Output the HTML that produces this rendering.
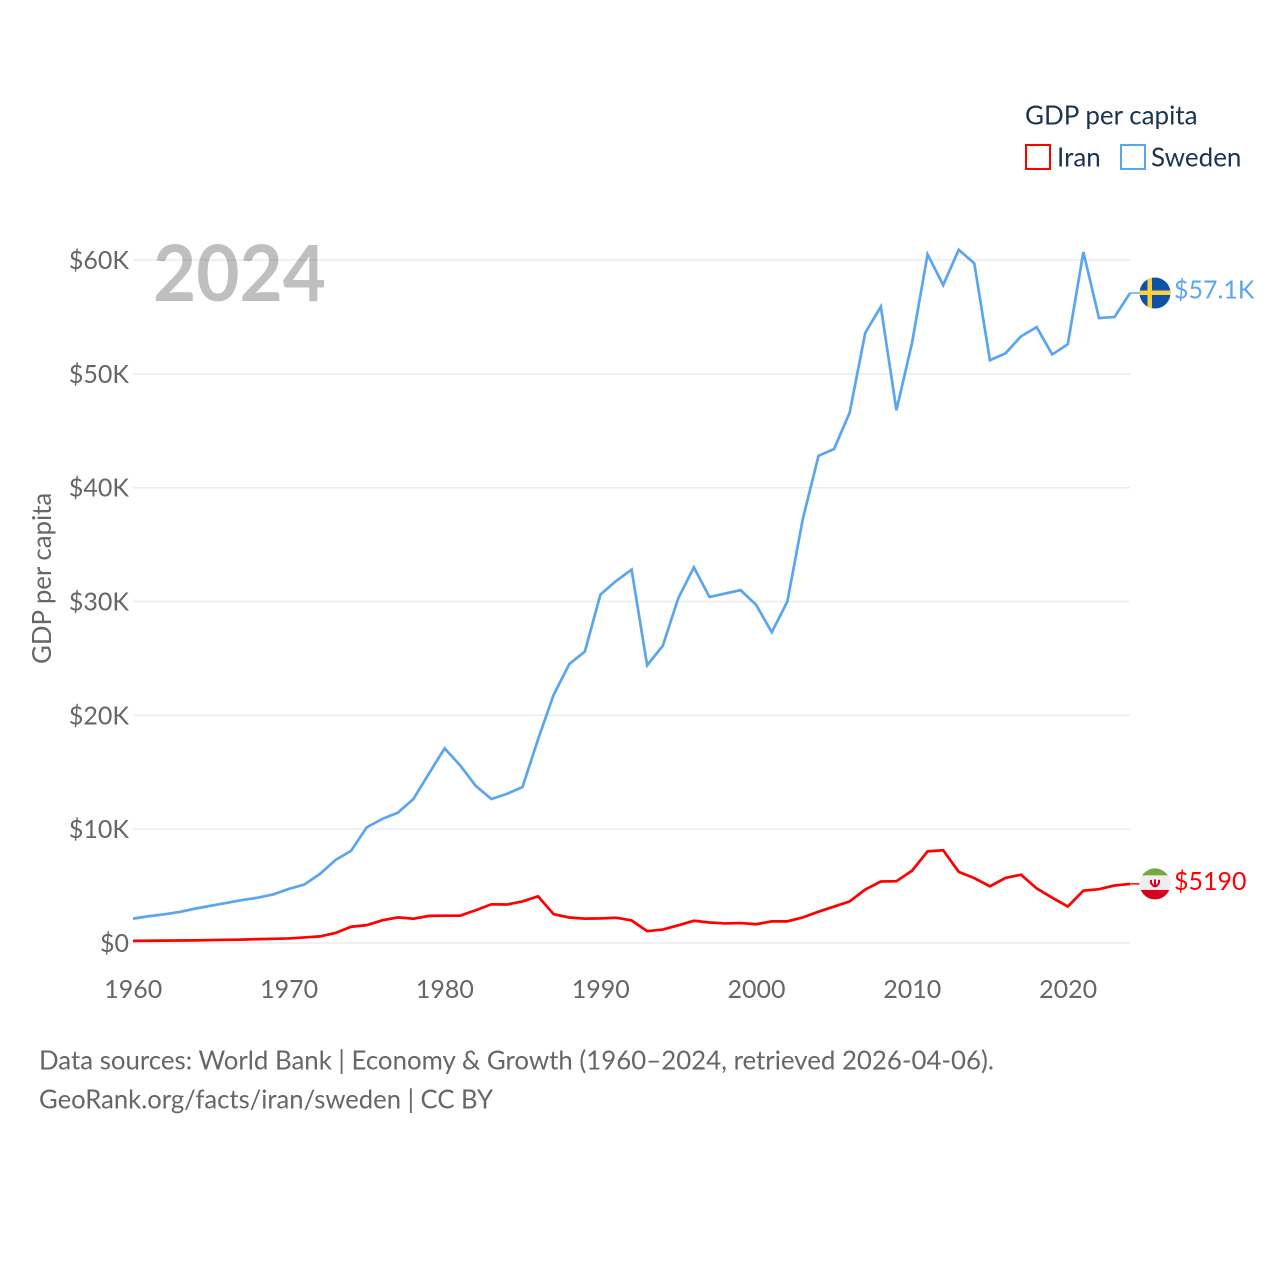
<!DOCTYPE html>
<html lang="en">
<head>
<meta charset="utf-8">
<title>GDP per capita: Iran and Sweden</title>
<style>
html,body{margin:0;padding:0;background:#fff;}
svg{display:block;font-family:"Lato","Carlito","Liberation Sans",sans-serif;}
</style>
</head>
<body>
<svg id="chart" width="1280" height="1280" viewBox="0 0 1280 1280" xmlns="http://www.w3.org/2000/svg">
  <rect x="0" y="0" width="1280" height="1280" fill="#ffffff"/>
  <defs>
    <clipPath id="flag-clip-se"><circle cx="1155" cy="293" r="15.500"/></clipPath>
    <clipPath id="flag-clip-ir"><circle cx="1155" cy="884" r="15.500"/></clipPath>
  </defs>
  <g id="grid"></g>
  <g id="yticks"></g>
  <g id="xticks"></g>
  <text x="153" y="301" font-size="78" font-weight="700" fill="#000000" fill-opacity="0.25" textLength="173" lengthAdjust="spacingAndGlyphs">2024</text>
  <text transform="translate(51,664) rotate(-90)" font-size="25.800" fill="#666666">GDP per capita</text>
  <g id="series"></g>
  <g id="flag-se">
    <g clip-path="url(#flag-clip-se)">
      <rect x="1139" y="277" width="32" height="32" fill="#0b52a8"/>
      <rect x="1139" y="290.500" width="32" height="4.500" fill="#fcd03c"/>
      <rect x="1147.500" y="277" width="4.500" height="32" fill="#fcd03c"/>
    </g>
  </g>
  <g id="flag-ir">
    <g clip-path="url(#flag-clip-ir)">
      <rect x="1139" y="868" width="32" height="7.500" fill="#75a843"/>
      <rect x="1139" y="875.500" width="32" height="14.500" fill="#eeeeee"/>
      <rect x="1139" y="890" width="32" height="10" fill="#d8001f"/>
      <path d="M1151 880 v3 q4 7 8 0 v-3 M1155 879.500 v7.500" fill="none" stroke="#d8001f" stroke-width="2"/>
    </g>
  </g>
  <text id="label-se" x="1174" y="298.500" font-size="25" fill="#5aa5ee"></text>
  <text id="label-ir" x="1174" y="890" font-size="25" fill="#ff0000"></text>
  <g>
    <text x="1025" y="124.500" font-size="26" fill="#1a3353">GDP per capita</text>
    <g>
      <rect x="1026" y="145" width="24" height="24" fill="none" stroke="#ff0000" stroke-width="2"/>
      <text x="1057" y="166.500" font-size="26" fill="#1a3353">Iran</text>
    </g>
    <g>
      <rect x="1121" y="145" width="24" height="24" fill="none" stroke="#5aa5ee" stroke-width="2"/>
      <text x="1151" y="166.500" font-size="26" fill="#1a3353">Sweden</text>
    </g>
  </g>
  <text x="39" y="1069.500" font-size="25.800" fill="#666666" textLength="955" lengthAdjust="spacingAndGlyphs">Data sources: World Bank | Economy &amp; Growth (1960–2024, retrieved 2026-04-06).</text>
  <text x="39" y="1108.500" font-size="25.800" fill="#666666" textLength="454" lengthAdjust="spacingAndGlyphs">GeoRank.org/facts/iran/sweden | CC BY</text>
</svg>
<script>
const startYear = 1960;
const yTickValues = [0, 10000, 20000, 30000, 40000, 50000, 60000];
const yTickLabels = ["$0", "$10K", "$20K", "$30K", "$40K", "$50K", "$60K"];
const xTickYears = [1960, 1970, 1980, 1990, 2000, 2010, 2020];
const swedenValues = [2140,2350,2520,2730,3020,3280,3520,3770,3980,4270,4750,5140,6070,7290,8100,10160,10900,11450,12650,14900,17100,15600,13800,12650,13100,13700,17900,21800,24500,25600,30600,31800,32800,24400,26100,30300,33000,30400,30700,31000,29700,27300,30000,37300,42800,43400,46600,53600,55900,46800,52700,60500,57800,60900,59700,51200,51800,53300,54100,51700,52600,60700,54900,55000,57100];
const iranValues = [190,200,210,220,230,260,280,300,340,370,400,490,580,880,1430,1570,1990,2250,2130,2380,2400,2400,2880,3400,3380,3650,4100,2530,2240,2140,2160,2220,1980,1040,1180,1550,1950,1800,1720,1750,1650,1900,1900,2250,2750,3200,3650,4700,5400,5430,6350,8050,8150,6250,5700,4980,5720,6000,4800,3980,3200,4600,4730,5050,5190];
const swedenEndLabel = "$57.1K";
const iranEndLabel = "$5190";

const NS = "http://www.w3.org/2000/svg";
function xScale(year) { return 133 + (year - 1960) * 15.58; }
function yScale(v) { return 943 - v * 683 / 60000; }
function make(tag, attrs, parent) {
  const el = document.createElementNS(NS, tag);
  for (const k in attrs) el.setAttribute(k, attrs[k]);
  parent.appendChild(el);
  return el;
}
const grid = document.getElementById("grid");
const yticks = document.getElementById("yticks");
const xticks = document.getElementById("xticks");
const series = document.getElementById("series");

yTickValues.forEach(function (v, i) {
  const line = make("line", {x1: 133, x2: 1130, y1: yScale(v), y2: yScale(v), stroke: "#ececec", "stroke-width": 1.5}, grid);
  
  
  const t = make("text", {x: 129, y: yScale(v) + 9, "text-anchor": "end", "font-size": 25, fill: "#666666"}, yticks);
  
  
  t.textContent = yTickLabels[i];
});
xTickYears.forEach(function (yr) {
  const t = make("text", {x: xScale(yr) + 0.3, y: 998, "text-anchor": "middle", "font-size": 25, fill: "#666666"}, xticks);
  
  
  t.textContent = String(yr);
});
function linePoints(values) {
  return values.map(function (v, i) { return xScale(startYear + i).toFixed(2) + "," + yScale(v).toFixed(2); }).join(" ");
}
const iranLine = make("polyline", {points: linePoints(iranValues), fill: "none", stroke: "#ff0000", "stroke-width": 2.7, "stroke-linejoin": "miter"}, series);


const swedenLine = make("polyline", {points: linePoints(swedenValues), fill: "none", stroke: "#5aa5ee", "stroke-width": 2.7, "stroke-linejoin": "miter"}, series);



const seY = yScale(swedenValues[swedenValues.length - 1]);
const irY = yScale(iranValues[iranValues.length - 1]);
const lastX = xScale(startYear + swedenValues.length - 1);
const seLead = make("line", {x1: lastX, x2: 1141, y1: seY, y2: seY, stroke: "#5aa5ee", "stroke-width": 1.5}, series);


const irLead = make("line", {x1: lastX, x2: 1141, y1: irY, y2: irY, stroke: "#ff0000", "stroke-width": 1.5}, series);



document.getElementById("flag-se").setAttribute("transform", "translate(0," + (seY - 293) + ")");
document.getElementById("flag-ir").setAttribute("transform", "translate(0," + (irY - 884) + ")");

const labelSe = document.getElementById("label-se");
labelSe.textContent = swedenEndLabel;
labelSe.setAttribute("y", seY + 5.6);
const labelIr = document.getElementById("label-ir");
labelIr.textContent = iranEndLabel;
labelIr.setAttribute("y", irY + 6);
</script>
</body>
</html>
